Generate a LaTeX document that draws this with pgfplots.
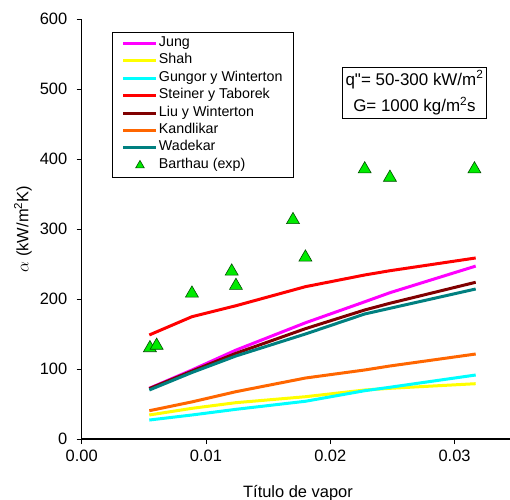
\documentclass[border=0pt]{standalone}
\usepackage{pgfplots}
\usepackage{pgfplotstable}
\pgfplotsset{compat=1.18}
\usepackage{fontspec}
\setmainfont{Liberation Sans}
% same face without the TeX quote mapping, for a straight double quote
\newfontfamily\plainquote{Liberation Sans}

\definecolor{cJung}{RGB}{255,0,255}
\definecolor{cShah}{RGB}{255,255,0}
\definecolor{cGungor}{RGB}{0,255,255}
\definecolor{cSteiner}{RGB}{255,0,0}
\definecolor{cLiu}{RGB}{128,0,0}
\definecolor{cKand}{RGB}{255,102,0}
\definecolor{cWade}{RGB}{0,128,128}
\definecolor{cExp}{RGB}{0,235,0}

\pgfplotsset{
  corr legend/.style={legend image code/.code={\draw[##1, line width=3bp] (0bp,0bp) -- (33bp,0bp);}},
  exp legend/.style={legend image code/.code={\draw[##1, mark size=5bp] plot coordinates {(16.5bp,0bp)};}},
}

% Correlations evaluated at the vapour qualities of the experiments
\pgfplotstableread{
x        jung  shah  gungor steiner liu   kand  wade
0.00544  72.4  34.3  27.1   148.6   72.0  40.4  70.0
0.00887  98.6  43.8  34.3   174.7   97.0  53.0  95.0
0.01241  127.0 51.9  42.4   190.4   122.4 67.6  118.6
0.0180   166.0 60.4  53.9   217.6   157.6 87.1  150.0
0.02277  196.0 70.0  69.0   234.3   184.3 98.6  178.6
0.0248   209.0 72.4  73.9   240.4   193.9 104.3 186.7
0.0317   247.0 79.0  91.4   258.6   223.9 121.4 214.3
}\corr

% Experimental data (Barthau)
\pgfplotstableread{
x        a
0.00549  130.0
0.00603  133.5
0.00887  208.0
0.01207  239.5
0.01241  219.0
0.0170   313.0
0.0180   259.5
0.02277  385.5
0.0248   373.5
0.0316   385.5
}\expdata

\begin{document}
\begin{tikzpicture}
\begin{axis}[
  scale only axis,
  width=428.3bp, height=420bp,
  xmin=0, xmax=0.03446,
  ymin=0, ymax=600,
  axis lines=left,
  axis line style={-, line width=1.2bp},
  tick align=outside,
  major tick length=5bp,
  tick style={black, line width=0.8bp},
  xtick={0,0.01,0.02,0.03},
  ytick={0,100,...,600},
  scaled x ticks=false,
  xticklabel style={/pgf/number format/.cd, fixed, fixed zerofill, precision=2, /tikz/.cd},
  /pgf/number format/assume math mode=true,
  ticklabel style={font=\fontsize{16.5}{18}\selectfont},
  xticklabel style={yshift=-3bp},
  yticklabel style={xshift=-6bp},
  xlabel={Título de vapor},
  ylabel={$\alpha$ (kW/m\textsuperscript{2}K)},
  label style={font=\fontsize{16.5}{18}\selectfont},
  xlabel style={at={(axis description cs:0.505,-0.128)}, anchor=center},
  ylabel style={at={(axis description cs:-0.137,0.5)}, anchor=center},
  legend cell align=left,
  legend style={
    at={(rel axis cs:0.070,0.970)}, anchor=north west,
    draw=black, line width=0.6bp, fill=white,
    font=\fontsize{14.3}{16}\selectfont,
    inner xsep=10bp, inner ysep=3bp,
    nodes={inner ysep=0bp, inner xsep=1bp, text height=11.6bp, text depth=5.8bp},
  },
  corr legend,
  every axis plot/.append style={line width=3bp},
]
\addplot[cJung]    table[x=x, y=jung]    {\corr}; \addlegendentry{Jung}
\addplot[cShah]    table[x=x, y=shah]    {\corr}; \addlegendentry{Shah}
\addplot[cGungor]  table[x=x, y=gungor]  {\corr}; \addlegendentry{Gungor y Winterton}
\addplot[cSteiner] table[x=x, y=steiner] {\corr}; \addlegendentry{Steiner y Taborek}
\addplot[cLiu]     table[x=x, y=liu]     {\corr}; \addlegendentry{Liu y Winterton}
\addplot[cKand]    table[x=x, y=kand]    {\corr}; \addlegendentry{Kandlikar}
\addplot[cWade]    table[x=x, y=wade]    {\corr}; \addlegendentry{Wadekar}
\addplot[only marks, mark=triangle*, mark size=7.5bp, exp legend,
  mark options={fill=cExp, draw=black!70!green, line width=0.6bp}]
  table[x=x, y=a] {\expdata}; \addlegendentry{Barthau (exp)}

\node[draw=black, line width=0.6bp, fill=white, align=center,
      font=\fontsize{17}{27}\selectfont, inner xsep=3bp, inner ysep=3bp]
  at (rel axis cs:0.777,0.8237)
  {q{\plainquote"}= 50-300 kW/m\textsuperscript{2}\\G= 1000 kg/m\textsuperscript{2}s};

\coordinate (ll) at (rel axis cs:0,0);
\coordinate (ur) at (rel axis cs:1,1);
\end{axis}
\pgfresetboundingbox
\useasboundingbox ([xshift=-81.7bp, yshift=-61bp]ll) rectangle ([yshift=19bp]ur);
\end{tikzpicture}
\end{document}
